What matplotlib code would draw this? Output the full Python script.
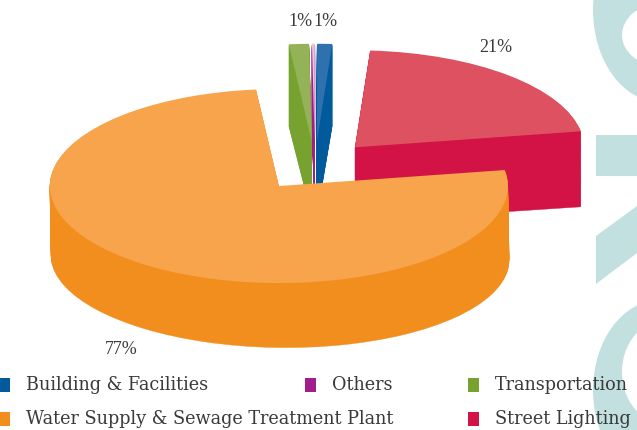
import matplotlib
matplotlib.use("Agg")
import matplotlib.pyplot as plt
from matplotlib.patches import Ellipse, Polygon, Rectangle
from matplotlib.transforms import Affine2D

# data (counter-clockwise from the right edge of Street Lighting)
categories = ["Street Lighting", "Building & Facilities", "Others", "Transportation",
              "Water Supply & Sewage Treatment Plant"]
values = [21.3, 1.05, 0.2, 1.4, 76.05]
pct_labels = ["21%", "1%", "", "1%", "77%"]
wall_colors = ["#D31245", "#005A9C", "#A01F8C", "#78A22F", "#F28E1E"]
top_colors = ["#DE5161", "#2F70AE", "#E8C4E2", "#94B358", "#F7A44C"]
label_xy = [(496, 47), (325, 22), None, (300, 22), (121, 349)]
legend_order = [1, 2, 3, 4, 0]
legend_marker_xy = [(-1, 378), (305, 378), (468, 378), (-1, 412), (468, 412)]

TEXT = "#3a3a3a"
WM = "#C2E0E0"
SLICE_Z = [10, 20, 30, 40, 50]  # back to front
SKEW = [0, 0, 0, 0, -6]         # front slice leans slightly towards the viewer

fig = plt.figure(figsize=(6.37, 4.30), dpi=100)
ax = fig.add_axes([0, 0, 1, 1])

# watermark
for (xy, w, h, c, z) in [((660, 10), 134, 184, WM, 1), ((660, 35), 76, 62, "white", 2),
                         ((660, 390), 134, 180, WM, 1), ((660, 372), 76, 98, "white", 2)]:
    ax.add_patch(Ellipse(xy, w, h, fc=c, ec="none", zorder=z))
ax.add_patch(Rectangle((596, 135), 45, 41, fc=WM, ec="none", zorder=1))
ax.add_patch(Polygon([(596, 236), (637, 206), (637, 253), (596, 284)], fc=WM, ec="none", zorder=1))

# 3-D pie: extruded stack of pies through a per-layer affine map
CX, CY, RX = 315, 166, 229
RY_TOP, RY_BOTTOM, DEPTH = 97, 90, 73
N = 73
for k in range(N + 1):
    t = 1 - k / N          # 1 = bottom, 0 = top
    ry = RY_TOP + (RY_BOTTOM - RY_TOP) * t
    is_top = k == N
    wedges, _ = ax.pie(values, explode=[0.26] * len(values), startangle=9.5,
                       colors=top_colors if is_top else wall_colors,
                       counterclock=True, radius=1)
    for i, w in enumerate(wedges):
        skew = Affine2D.from_values(1, 0, SKEW[i] / RX * t, 1, 0, 0)
        tr = skew + Affine2D().scale(RX, -ry).translate(CX, CY + DEPTH * t) + ax.transData
        w.set_transform(tr)
        w.set_zorder(SLICE_Z[i] + k / (N + 1))
        w.set_joinstyle("miter")
        w.set_linewidth(0 if is_top else 0.3)
        w.set_edgecolor("none" if is_top else wall_colors[i])

ax.set_aspect("auto")
ax.set_xlim(0, 637)
ax.set_ylim(430, 0)
ax.axis("off")

for lab, xy in zip(pct_labels, label_xy):
    if xy:
        ax.text(xy[0], xy[1], lab, ha="center", va="center", fontsize=13,
                family="Liberation Serif", color=TEXT, zorder=90)

for idx, (mx, my) in zip(legend_order, legend_marker_xy):
    ax.add_patch(Rectangle((mx, my), 11, 14, fc=wall_colors[idx], ec="none", zorder=90))
    ax.text(mx + 27, my + 7, categories[idx], ha="left", va="center", fontsize=12.7,
            family="DejaVu Serif", color=TEXT, zorder=91)

fig.savefig("out.png", dpi=100)
